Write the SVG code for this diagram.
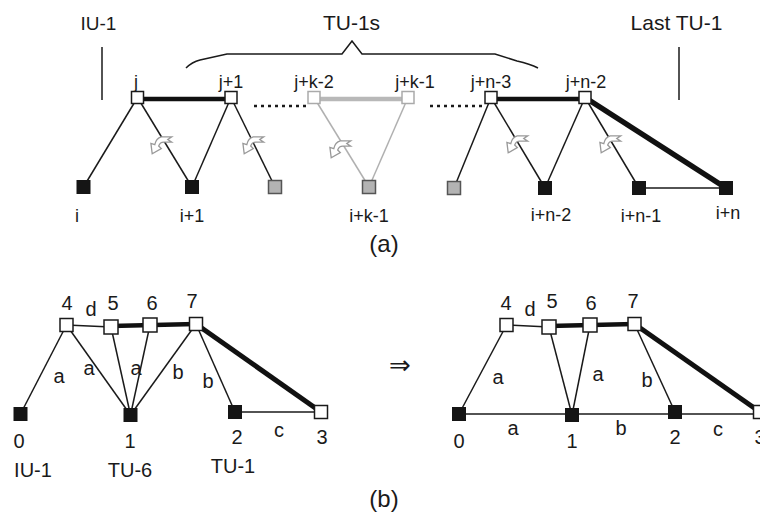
<svg xmlns="http://www.w3.org/2000/svg" width="760" height="514" viewBox="0 0 760 514">
<style>
text{font-family:"Liberation Sans",Arial,sans-serif;fill:#1a1a1a;text-anchor:middle}
.lab{font-size:18px}
.big{font-size:21px}
.bl{font-size:20px}
.e{stroke:#1a1a1a;stroke-width:1.5;fill:none}
.ek{stroke:#111;stroke-width:4.5;fill:none}
.eg{stroke:#b0b0b0;stroke-width:1.5;fill:none}
.egk{stroke:#b8b8b8;stroke-width:4.5;fill:none}
.dot{stroke:#1a1a1a;stroke-width:2.5;stroke-dasharray:3 4;fill:none}
.w{fill:#fff;stroke:#1a1a1a;stroke-width:1.5}
.wg{fill:#fff;stroke:#aaa;stroke-width:1.5}
.b{fill:#151515;stroke:#151515;stroke-width:1}
.g{fill:#b3b3b3;stroke:#555;stroke-width:1.5}
.arr{fill:#fff;stroke:#999;stroke-width:1}
</style>
<defs>
<path id="ca" d="M9,-7 L1,-7 Q-3,-6 -4,-1 L-7,-2 L-6,6 L1,2 L-1,0 Q0,-3 3,-3 L9,-3 L6,-5 Z"/>
</defs>

<!-- headings (a) -->
<g id="headings">
<text x="98.5" y="30" style="font-size:19px">IU-1</text>
<line x1="102" y1="47" x2="102" y2="100" stroke="#1a1a1a" stroke-width="1.5"/>
<text class="big" x="351.5" y="30">TU-1s</text>
<path d="M186,68 Q192,62 200,60 L227,54 L342,54 L352,41 L362,54 L495,54 L517,61 Q530,64 538,68" class="e"/>
<text class="big" x="676.5" y="30">Last TU-1</text>
<line x1="679" y1="47" x2="679" y2="100" stroke="#1a1a1a" stroke-width="1.5"/>
</g>

<!-- connectors (a) -->
<g id="connectors-a">
<line class="ek" x1="137.5" y1="99" x2="231" y2="99"/>
<line class="e" x1="137.5" y1="97.5" x2="83.5" y2="187"/>
<line class="e" x1="137.5" y1="97.5" x2="192" y2="187"/>
<line class="e" x1="231" y1="97.5" x2="192" y2="187"/>
<line class="e" x1="231" y1="97.5" x2="275" y2="187"/>
<line class="dot" x1="254" y1="106" x2="307" y2="106"/>
<line class="egk" x1="314" y1="99" x2="408" y2="99"/>
<line class="eg" x1="314" y1="97.5" x2="369" y2="187"/>
<line class="eg" x1="408" y1="97.5" x2="369" y2="187"/>
<line class="dot" x1="430" y1="106" x2="484" y2="106"/>
<line class="ek" x1="491" y1="99" x2="585" y2="99"/>
<line class="e" x1="491" y1="97.5" x2="454" y2="188"/>
<line class="e" x1="491" y1="97.5" x2="545" y2="188"/>
<line class="e" x1="585" y1="97.5" x2="545" y2="188"/>
<line class="e" x1="585" y1="97.5" x2="639" y2="188"/>
<line class="e" x1="639" y1="188" x2="726" y2="188"/>
<line stroke="#111" stroke-width="5.5" x1="585" y1="97.5" x2="726" y2="188"/>
<use href="#ca" class="arr" transform="translate(160,146) scale(1.3)"/>
<use href="#ca" class="arr" transform="translate(252,146) scale(1.3)"/>
<use href="#ca" class="arr" transform="translate(339,150) scale(1.3)"/>
<use href="#ca" class="arr" transform="translate(516,145) scale(1.3)"/>
<use href="#ca" class="arr" transform="translate(609,145) scale(1.3)"/>
</g>

<!-- nodes (a) -->
<g id="a-j"><rect class="w" x="131.5" y="91.5" width="12" height="12"/><text class="lab" x="136" y="88">j</text></g>
<g id="a-j1"><rect class="w" x="225" y="91.5" width="12" height="12"/><text class="lab" x="231" y="88">j+1</text></g>
<g id="a-jk2"><rect class="wg" x="308" y="91.5" width="12" height="12"/><text class="lab" x="314" y="88">j+k-2</text></g>
<g id="a-jk1"><rect class="wg" x="402" y="91.5" width="12" height="12"/><text class="lab" x="415" y="88">j+k-1</text></g>
<g id="a-jn3"><rect class="w" x="485" y="91.5" width="12" height="12"/><text class="lab" x="491" y="88">j+n-3</text></g>
<g id="a-jn2"><rect class="w" x="579" y="91.5" width="12" height="12"/><text class="lab" x="586" y="88">j+n-2</text></g>

<g id="a-i"><rect class="b" x="77" y="180.5" width="13" height="13"/><text class="lab" x="77" y="222">i</text></g>
<g id="a-i1"><rect class="b" x="185.5" y="180.5" width="13" height="13"/><text class="lab" x="192" y="222">i+1</text></g>
<g id="a-g1"><rect class="g" x="268.5" y="180.5" width="13" height="13"/></g>
<g id="a-ik1"><rect class="g" x="362.5" y="180.5" width="13" height="13"/><text class="lab" x="369" y="222">i+k-1</text></g>
<g id="a-g2"><rect class="g" x="447.5" y="181.5" width="13" height="13"/></g>
<g id="a-in2"><rect class="b" x="538.5" y="181.5" width="13" height="13"/><text class="lab" x="551" y="221">i+n-2</text></g>
<g id="a-in1"><rect class="b" x="632.5" y="181.5" width="13" height="13"/><text class="lab" x="641" y="222">i+n-1</text></g>
<g id="a-in"><rect class="b" x="719.5" y="181.5" width="13" height="13"/><text class="lab" x="728" y="219">i+n</text></g>

<text x="384" y="252" style="font-size:24px">(a)</text>

<!-- connectors (b) left -->
<g id="connectors-bl">
<line class="e" x1="66.5" y1="325" x2="111" y2="327"/>
<line class="ek" x1="111" y1="326" x2="196" y2="324"/>
<line class="e" x1="66.5" y1="325" x2="20.5" y2="414"/>
<line class="e" x1="66.5" y1="325" x2="130.5" y2="415"/>
<line class="e" x1="111" y1="327" x2="130.5" y2="415"/>
<line class="e" x1="150" y1="325" x2="130.5" y2="415"/>
<line class="e" x1="196" y1="324" x2="130.5" y2="415"/>
<line class="e" x1="196" y1="324" x2="235" y2="412"/>
<line class="e" x1="235" y1="412" x2="321" y2="412"/>
<line stroke="#111" stroke-width="5" x1="196" y1="324" x2="321" y2="412"/>
</g>
<g id="b-l4"><rect class="w" x="60" y="318.5" width="13" height="13"/><text class="bl" x="67" y="310">4</text></g>
<g id="b-l5"><rect class="w" x="104" y="320" width="14" height="14"/><text class="bl" x="113" y="310">5</text></g>
<g id="b-l6"><rect class="w" x="143" y="318" width="14" height="14"/><text class="bl" x="152" y="310">6</text></g>
<g id="b-l7"><rect class="w" x="189.5" y="317.5" width="13" height="13"/><text class="bl" x="192" y="308">7</text></g>
<g id="b-l0"><rect class="b" x="14" y="407.5" width="13" height="13"/><text class="bl" x="19" y="448">0</text><text class="bl" x="33" y="477">IU-1</text></g>
<g id="b-l1"><rect class="b" x="124" y="408.5" width="13" height="13"/><text class="bl" x="130" y="448">1</text><text class="bl" x="130" y="477">TU-6</text></g>
<g id="b-l2"><rect class="b" x="228.5" y="405.5" width="13" height="13"/><text class="bl" x="237" y="444">2</text><text class="bl" x="233" y="473">TU-1</text></g>
<g id="b-l3"><rect class="w" x="314.5" y="405.5" width="13" height="13"/><text class="bl" x="322" y="444">3</text></g>
<g id="b-l-labels">
<text class="bl" x="91" y="316">d</text>
<text class="bl" x="59" y="383">a</text>
<text class="bl" x="89" y="375">a</text>
<text class="bl" x="136" y="375">a</text>
<text class="bl" x="178" y="379">b</text>
<text class="bl" x="208" y="388">b</text>
<text class="bl" x="279" y="437">c</text>
</g>

<text x="400" y="374" style="font-family:'DejaVu Sans',sans-serif;font-size:26px">⇒</text>

<!-- connectors (b) right -->
<g id="connectors-br">
<line class="e" x1="506.5" y1="325" x2="549" y2="327"/>
<line class="ek" x1="549" y1="326" x2="634.5" y2="324"/>
<line class="e" x1="506.5" y1="325" x2="459" y2="414"/>
<line class="e" x1="549" y1="327" x2="572" y2="415"/>
<line class="e" x1="590" y1="325" x2="572" y2="415"/>
<line class="e" x1="634.5" y1="324" x2="675" y2="412"/>
<line class="e" x1="459" y1="414" x2="760" y2="414"/>
<line stroke="#111" stroke-width="5" x1="634.5" y1="324" x2="760" y2="412"/>
</g>
<g id="b-r4"><rect class="w" x="500" y="318.5" width="13" height="13"/><text class="bl" x="506" y="310">4</text></g>
<g id="b-r5"><rect class="w" x="542" y="320" width="14" height="14"/><text class="bl" x="552" y="308">5</text></g>
<g id="b-r6"><rect class="w" x="583" y="318" width="14" height="14"/><text class="bl" x="591" y="310">6</text></g>
<g id="b-r7"><rect class="w" x="628" y="317.5" width="13" height="13"/><text class="bl" x="633" y="308">7</text></g>
<g id="b-r0"><rect class="b" x="452.5" y="407.5" width="13" height="13"/><text class="bl" x="459" y="448">0</text></g>
<g id="b-r1"><rect class="b" x="565.5" y="408.5" width="13" height="13"/><text class="bl" x="572" y="448">1</text></g>
<g id="b-r2"><rect class="b" x="668.5" y="405.5" width="13" height="13"/><text class="bl" x="675" y="444">2</text></g>
<g id="b-r3"><rect class="w" x="753.5" y="405.5" width="13" height="13"/><text class="bl" x="760" y="444">3</text></g>
<g id="b-r-labels">
<text class="bl" x="530" y="316">d</text>
<text class="bl" x="498" y="384">a</text>
<text class="bl" x="598" y="381">a</text>
<text class="bl" x="647" y="387">b</text>
<text class="bl" x="513" y="435">a</text>
<text class="bl" x="621" y="435">b</text>
<text class="bl" x="718" y="436">c</text>
</g>

<text x="384" y="507" style="font-size:24px">(b)</text>
</svg>
